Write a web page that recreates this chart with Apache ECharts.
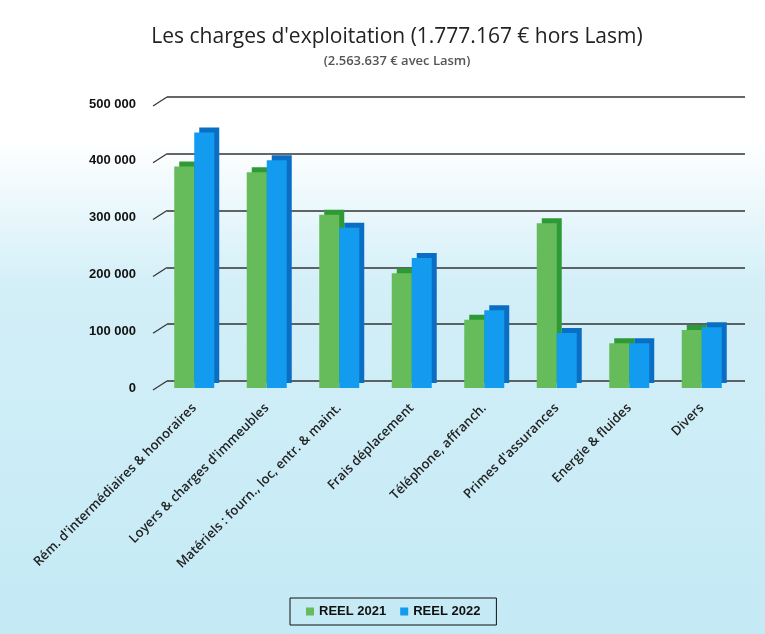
<!DOCTYPE html>
<html>
<head>
<meta charset="utf-8">
<script src="https://cdn.jsdelivr.net/npm/echarts@6/dist/echarts.min.js"></script>
<style>
  html, body { margin: 0; padding: 0; }
  #main { width: 765px; height: 634px; }
</style>
</head>
<body>
<div id="main"></div>
<script>
// catégories et valeurs
var categories = [
    "Rém. d'intermédiaires & honoraires",
    "Loyers & charges d'immeubles",
    "Matériels : fourn., loc, entr. & maint.",
    "Frais déplacement",
    "Téléphone, affranch.",
    "Primes d'assurances",
    "Energie & fluides",
    "Divers"
]
var reel2021 = [390000, 380000, 305000, 202000, 120000, 290000, 79000, 102000]
var reel2022 = [450000, 401000, 282000, 229000, 137000, 97000, 79000, 107000]
var yTicks = [0, 100000, 200000, 300000, 400000, 500000]

var chart = echarts.init(document.getElementById('main'))

function fmt(v) {
    // 500000 -> "500 000"
    return v === 0 ? '0' : String(v).replace(/\B(?=(\d{3})+(?!\d))/g, ' ')
}

var frontLeft = 158
var backLeft = 167

var option = {
    backgroundColor: new echarts.graphic.LinearGradient(0, 0, 0, 1, [
        { offset: 0, color: '#ffffff' },
        { offset: 0.22, color: '#ffffff' },
        { offset: 0.45, color: '#d3eff8' },
        { offset: 1, color: '#c4eaf5' }
    ]),
    animation: false,
    title: {
        text: "Les charges d'exploitation (1.777.167 € hors Lasm)",
        subtext: '(2.563.637 € avec Lasm)',
        left: 392,
        textAlign: 'center',
        top: 22,
        itemGap: 7,
        textStyle: {
            fontFamily: 'Open Sans',
            fontWeight: 'normal',
            fontSize: 21,
            color: '#222'
        },
        subtextStyle: {
            fontFamily: 'Open Sans',
            fontWeight: 600,
            fontSize: 13,
            color: '#555'
        }
    },
    legend: {
        bottom: 9,
        left: 290,
        itemWidth: 8,
        itemHeight: 8,
        itemGap: 14,
        padding: [7, 16, 7, 16],
        borderColor: '#111',
        borderWidth: 1,
        icon: 'rect',
        textStyle: {
            fontFamily: 'Liberation Sans',
            fontWeight: 'bold',
            fontSize: 13,
            color: '#111'
        },
        data: ['REEL 2021', 'REEL 2022']
    },
    grid: [
        // plan avant (barres)
        { left: frontLeft, right: 27, top: 104, height: 284 },
        // paroi du fond (quadrillage décalé pour l'effet 3D)
        { left: backLeft, right: 20, top: 97, height: 284 }
    ],
    xAxis: [
        {
            type: 'category',
            gridIndex: 0,
            data: categories,
            axisLine: { show: false },
            axisTick: { show: false },
            axisLabel: {
                rotate: 45,
                interval: 0,
                margin: 18,
                fontFamily: 'Open Sans',
                fontWeight: 600,
                fontSize: 13,
                color: '#222'
            }
        },
        {
            type: 'category',
            gridIndex: 1,
            data: categories,
            show: false
        }
    ],
    yAxis: [
        {
            type: 'value',
            gridIndex: 0,
            min: 0,
            max: 500000,
            interval: 100000,
            splitLine: { show: false },
            axisLine: { show: false },
            axisTick: { show: false },
            axisLabel: {
                margin: 22,
                fontFamily: 'Liberation Sans',
                fontWeight: 'bold',
                fontSize: 13,
                color: '#111',
                formatter: fmt
            }
        },
        {
            type: 'value',
            gridIndex: 1,
            min: yTicks[0],
            max: yTicks[yTicks.length - 1],
            interval: 100000,
            axisLine: { show: false },
            axisTick: { show: false },
            axisLabel: { show: false },
            splitLine: { lineStyle: { color: '#333', width: 1.5 } }
        }
    ],
    series: [
        {
            name: 'REEL 2021',
            type: 'bar',
            xAxisIndex: 0,
            yAxisIndex: 0,
            data: reel2021,
            barWidth: 20,
            barGap: '0%',
            itemStyle: {
                color: '#66bb5a',
                shadowColor: '#2f9a35',
                shadowOffsetX: 5,
                shadowOffsetY: -5,
                shadowBlur: 0
            }
        },
        {
            name: 'REEL 2022',
            type: 'bar',
            xAxisIndex: 0,
            yAxisIndex: 0,
            data: reel2022,
            barWidth: 20,
            itemStyle: {
                color: '#129bef',
                shadowColor: '#0a6fc4',
                shadowOffsetX: 5,
                shadowOffsetY: -5,
                shadowBlur: 0
            }
        }
    ]
}

chart.setOption(option)

// petits traits obliques reliant le plan avant au quadrillage du fond
var stubs = yTicks.map(function (v) {
    var yFront = chart.convertToPixel({ yAxisIndex: 0 }, v)
    var yBack = chart.convertToPixel({ yAxisIndex: 1 }, v)
    return {
        type: 'line',
        shape: { x1: frontLeft - 5, y1: yFront + 2, x2: backLeft, y2: yBack },
        style: { stroke: '#333', lineWidth: 1.2 },
        silent: true
    }
})
chart.setOption({ graphic: stubs })

window.addEventListener('resize', chart.resize)
</script>
</body>
</html>
